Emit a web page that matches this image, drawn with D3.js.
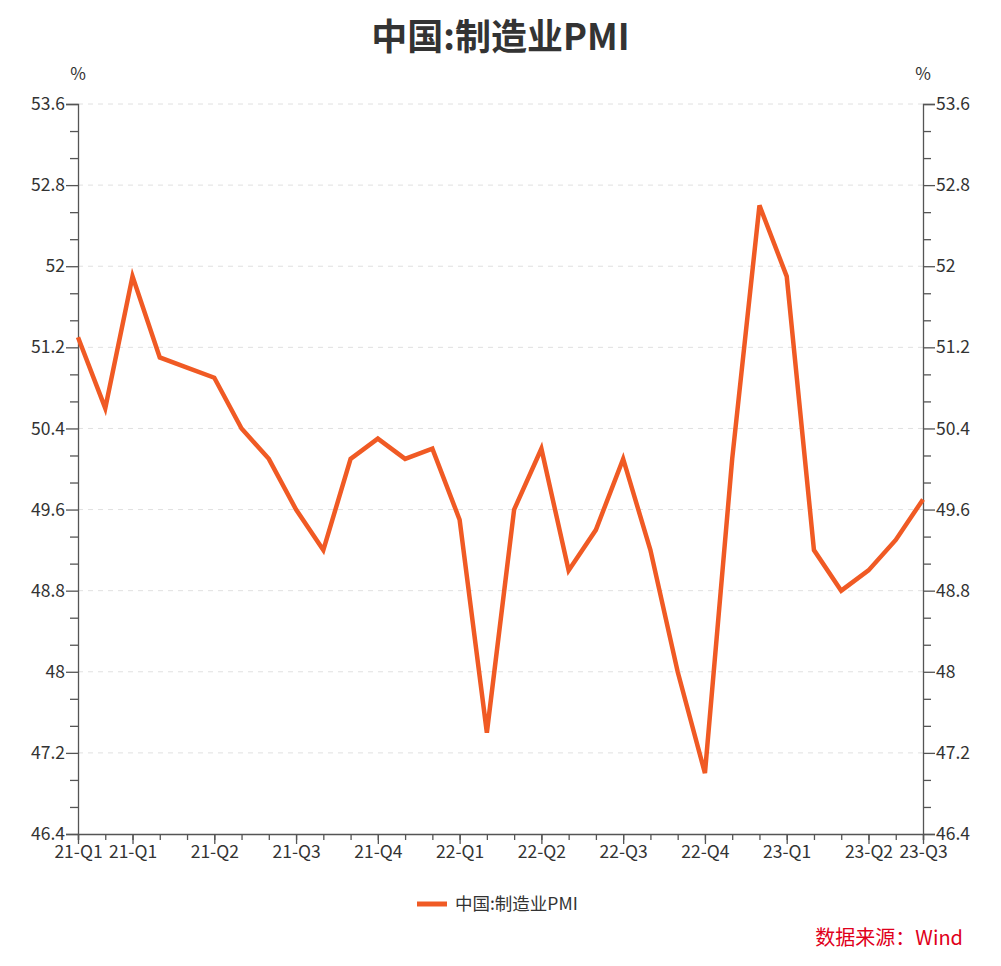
<!DOCTYPE html>
<html>
<head>
<meta charset="utf-8">
<script src="https://cdn.jsdelivr.net/npm/d3@7"></script>
<style>
  body { margin: 0; background: #fff; }
  svg text { font-family: "Microsoft YaHei", "Noto Sans CJK SC", sans-serif; }
</style>
</head>
<body>
<div id="chart"></div>
<script>
// monthly data, Jan 2021 .. Aug 2023
var months = ['21-Q1','21-Q1','21-Q1','21-Q2','21-Q2','21-Q2','21-Q3','21-Q3','21-Q3',
              '21-Q4','21-Q4','21-Q4','22-Q1','22-Q1','22-Q1','22-Q2','22-Q2','22-Q2',
              '22-Q3','22-Q3','22-Q3','22-Q4','22-Q4','22-Q4','23-Q1','23-Q1','23-Q1',
              '23-Q2','23-Q2','23-Q2','23-Q3','23-Q3']
var pmi = [51.3, 50.6, 51.9, 51.1, 51.0, 50.9, 50.4, 50.1, 49.6, 49.2, 50.1, 50.3,
           50.1, 50.2, 49.5, 47.4, 49.6, 50.2, 49.0, 49.4, 50.1, 49.2, 48.0, 47.0,
           50.1, 52.6, 51.9, 49.2, 48.8, 49.0, 49.3, 49.7]
var yTicks = [46.4, 47.2, 48, 48.8, 49.6, 50.4, 51.2, 52, 52.8, 53.6]
var labelIdx = [0, 2, 5, 8, 11, 14, 17, 20, 23, 26, 29, 31]

var W = 1001, H = 966
var margin = {top: 104, right: 78, bottom: 132, left: 78},
  width = W - margin.left - margin.right,
  height = H - margin.top - margin.bottom

var svg = d3.select("#chart")
  .append("svg")
  .attr("width", W)
  .attr("height", H)

var g = svg.append("g")
  .attr("transform", "translate(" + margin.left + "," + margin.top + ")")

var x = d3.scaleLinear()
  .domain([0, pmi.length - 1])
  .range([0, width])

var y = d3.scaleLinear()
  .domain([46.4, 53.6])
  .range([height, 0])

// minor ticks: three steps per labelled interval
var minorTicks = []
for (var i = 0; i < yTicks.length - 1; i++) {
  var step = (yTicks[i + 1] - yTicks[i]) / 3
  minorTicks.push(yTicks[i] + step, yTicks[i] + 2 * step)
}

// grid lines
g.append("g")
  .selectAll("line")
  .data(yTicks.slice(1))
  .enter()
  .append("line")
  .attr("x1", 0)
  .attr("x2", width)
  .attr("y1", function(d) { return y(d) })
  .attr("y2", function(d) { return y(d) })
  .attr("stroke", "#e0e0e0")
  .attr("stroke-dasharray", "5,5")

var axisColor = "#555"

// left axis
var yLeft = g.append("g")
  .call(d3.axisLeft(y).tickValues(yTicks).tickSize(12).tickPadding(1).tickFormat(d3.format("")))
yLeft.append("g")
  .call(d3.axisLeft(y).tickValues(minorTicks).tickSize(8).tickFormat(""))
  .select(".domain").remove()

// right axis
var yRight = g.append("g")
  .attr("transform", "translate(" + width + ",0)")
  .call(d3.axisRight(y).tickValues(yTicks).tickSize(12).tickPadding(1).tickFormat(d3.format("")))
yRight.append("g")
  .call(d3.axisRight(y).tickValues(minorTicks).tickSize(8).tickFormat(""))
  .select(".domain").remove()

// bottom axis
var xAxis = g.append("g")
  .attr("transform", "translate(0," + height + ")")
  .call(d3.axisBottom(x).tickValues(d3.range(pmi.length)).tickSize(6).tickFormat(""))
xAxis.append("g")
  .call(d3.axisBottom(x).tickValues(labelIdx).tickSize(10).tickPadding(2)
    .tickFormat(function(i) { return months[i] }))
  .select(".domain").remove()

svg.selectAll(".domain, .tick line").attr("stroke", axisColor).attr("stroke-width", 1.3)
svg.selectAll(".tick text").attr("fill", "#333").style("font-size", "17.5px")

// unit labels
g.append("text").attr("x", 0).attr("y", -24).attr("text-anchor", "middle")
  .attr("fill", "#333").style("font-size", "17px").text("%")
g.append("text").attr("x", width).attr("y", -24).attr("text-anchor", "middle")
  .attr("fill", "#333").style("font-size", "17px").text("%")

// line
var lineColor = "#f05a24"
g.append("path")
  .datum(pmi)
  .attr("fill", "none")
  .attr("stroke", lineColor)
  .attr("stroke-width", 4.5)
  .attr("stroke-linejoin", "miter")
  .attr("d", d3.line()
    .x(function(d, i) { return x(i) })
    .y(function(d) { return y(d) }))

// title
svg.append("text")
  .attr("x", W / 2)
  .attr("y", 50)
  .attr("text-anchor", "middle")
  .attr("fill", "#333")
  .style("font-size", "36px")
  .style("font-weight", "bold")
  .text("中国:制造业PMI")

// legend
svg.append("line")
  .attr("x1", 417).attr("x2", 447)
  .attr("y1", 904).attr("y2", 904)
  .attr("stroke", lineColor)
  .attr("stroke-width", 5)
svg.append("text")
  .attr("x", 455)
  .attr("y", 910)
  .attr("fill", "#333")
  .style("font-size", "17.5px")
  .text("中国:制造业PMI")

// source
svg.append("text")
  .attr("x", 963)
  .attr("y", 945)
  .attr("text-anchor", "end")
  .attr("fill", "#e0001b")
  .style("font-size", "20px")
  .text("数据来源：Wind")
</script>
</body>
</html>
